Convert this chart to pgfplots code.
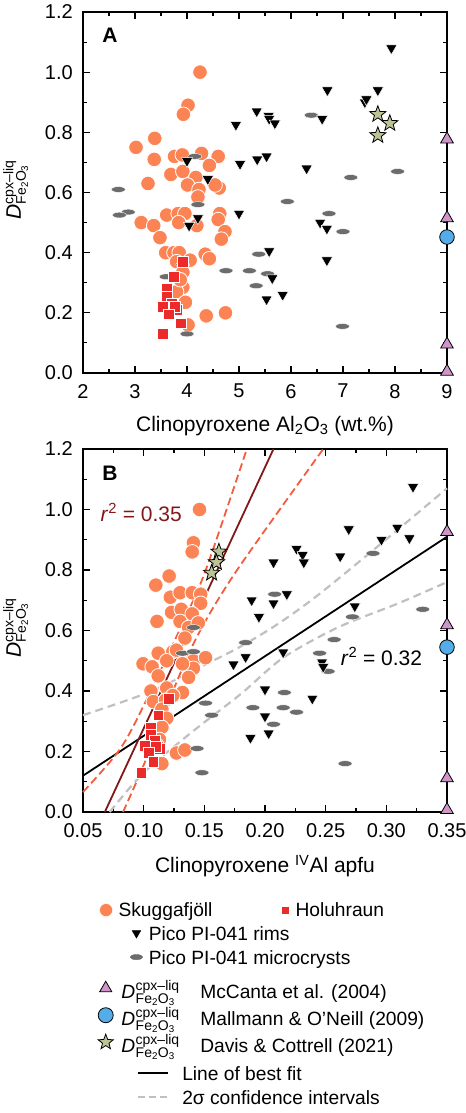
\documentclass[border=0pt]{standalone}
\usepackage{fontspec}
\setmainfont{Liberation Sans}
\usepackage{amsmath}
\usepackage{pgfplots}
\pgfplotsset{compat=1.18}
\usetikzlibrary{plotmarks}

\definecolor{Skug}{RGB}{252,132,84}
\definecolor{Holu}{RGB}{236,42,42}
\definecolor{Micro}{RGB}{108,108,108}
\definecolor{StarG}{RGB}{186,196,150}
\definecolor{McC}{RGB}{207,148,201}
\definecolor{MalB}{RGB}{84,172,232}
\definecolor{DarkR}{RGB}{130,24,24}
\definecolor{OrD}{RGB}{244,92,62}
\definecolor{GreyD}{RGB}{192,192,192}

% filled five-pointed star
\pgfdeclareplotmark{fstar}{%
  \pgfpathmoveto{\pgfpointpolar{90}{\pgfplotmarksize}}%
  \pgfpathlineto{\pgfpointpolar{126}{0.42\pgfplotmarksize}}%
  \pgfpathlineto{\pgfpointpolar{162}{\pgfplotmarksize}}%
  \pgfpathlineto{\pgfpointpolar{198}{0.42\pgfplotmarksize}}%
  \pgfpathlineto{\pgfpointpolar{234}{\pgfplotmarksize}}%
  \pgfpathlineto{\pgfpointpolar{270}{0.42\pgfplotmarksize}}%
  \pgfpathlineto{\pgfpointpolar{306}{\pgfplotmarksize}}%
  \pgfpathlineto{\pgfpointpolar{342}{0.42\pgfplotmarksize}}%
  \pgfpathlineto{\pgfpointpolar{18}{\pgfplotmarksize}}%
  \pgfpathlineto{\pgfpointpolar{54}{0.42\pgfplotmarksize}}%
  \pgfpathclose\pgfusepathqfillstroke}

\newcommand{\fs}{\fontsize{20bp}{24bp}\selectfont}
\newcommand{\fl}{\fontsize{21bp}{25bp}\selectfont}
\newcommand{\fg}{\fontsize{19.2bp}{23bp}\selectfont}
\newcommand{\Dfe}{\textit{D}\kern0.5bp\raisebox{7.5bp}{\hbox to 0pt{\fontsize{14bp}{14bp}\selectfont cpx--liq\hss}}%
  \raisebox{-5bp}{\fontsize{14bp}{14bp}\selectfont Fe\textsubscript{2}O\textsubscript{3}}}

\pgfplotsset{
  panel/.style={
    scale only axis, width=364bp, clip=false,
    axis line style={line width=1.6bp},
    tick align=inside, major tick length=7bp, minor tick length=4bp,
    tick style={black, line width=1.1bp},
    minor x tick num=1, minor y tick num=1,
    ymin=0, ymax=1.2, ytick={0,0.2,0.4,0.6,0.8,1.0,1.2},
    ticklabel style={font=\fs, inner sep=1bp},
    xticklabel style={yshift=-10bp},
    yticklabel style={xshift=-9bp},
    label style={font=\fl},
    xlabel style={yshift=-13bp},
    /pgf/number format/assume math mode=true,
    yticklabel style={/pgf/number format/fixed, /pgf/number format/fixed zerofill, /pgf/number format/precision=1},
    ylabel={\Dfe},
    ylabel style={at={(axis description cs:-0.185,0.5)}, anchor=center},
  },
  skug/.style={only marks, mark=*, mark size=7.3bp, mark options={fill=Skug, draw=white, line width=0.8bp}, forget plot},
  holu/.style={only marks, mark=square*, mark size=5.4bp, mark options={fill=Holu, draw=white, line width=0.6bp}, forget plot},
  rims/.style={only marks, mark=triangle*, mark size=6.5bp, mark options={rotate=180, fill=black, draw=white, line width=0.5bp}, forget plot},
  micro/.style={only marks, mark=*, mark size=4bp, mark options={xscale=1.75, yscale=0.72, fill=Micro, draw=white, line width=0.4bp}, forget plot},
  davis/.style={only marks, mark=fstar, mark size=8.5bp, mark options={fill=StarG, draw=black, line width=0.8bp}, forget plot},
  mccan/.style={only marks, mark=triangle*, mark size=7.3bp, mark options={fill=McC, draw=black, line width=0.8bp}, forget plot},
  malm/.style={only marks, mark=*, mark size=7.3bp, mark options={fill=MalB, draw=black, line width=0.8bp}, forget plot},
  markleg/.style={legend image code/.code={\draw[##1] plot coordinates {(0bp,0bp)};}},
  lineleg/.style={legend image code/.code={\draw[##1] (0bp,0bp) -- (30bp,0bp);}},
  legbase/.style={legend cell align=left, legend style={draw=none, fill=none, font=\fg, inner sep=0pt, anchor=north west,
    nodes={inner sep=1bp, text height=18bp, text depth=4bp}}},
}

\begin{document}
\begin{tikzpicture}
\path[use as bounding box] (0bp,0bp) rectangle (466bp,-1113bp);

% ---------------- panel A ----------------
\begin{axis}[panel, at={(83bp,-12bp)}, anchor=north west, height=361bp,
  xmin=2, xmax=9, xtick={2,3,4,5,6,7,8,9},
  xlabel={Clinopyroxene Al\textsubscript{2}O\textsubscript{3} (wt.\%)},
  legbase, legend columns=2,
  legend style={at={(0.045,-1.454)},
    nodes={text height=17bp, text depth=5bp},
    /tikz/every odd column/.append style={column sep=5bp},
    /tikz/every even column/.append style={column sep=68bp}}]

\addplot[skug] coordinates {
(4.25,1.00)(4.02,0.89)(3.93,0.86)(3.02,0.75)(3.38,0.78)(3.37,0.71)(3.76,0.72)(3.91,0.725)
(4.28,0.73)(4.60,0.72)(4.43,0.69)(3.69,0.66)(3.92,0.67)(4.17,0.65)(3.25,0.63)(4.01,0.625)
(4.23,0.61)(4.62,0.615)(4.54,0.625)(4.21,0.585)(3.12,0.50)(3.36,0.49)(3.61,0.525)(3.83,0.53)
(3.96,0.53)(3.84,0.50)(4.19,0.49)(4.63,0.53)(4.60,0.51)(4.73,0.47)(4.66,0.445)(3.48,0.45)
(3.59,0.40)(3.75,0.40)(3.85,0.40)(4.06,0.375)(4.35,0.395)(4.43,0.38)(3.80,0.37)(3.92,0.335)
(3.92,0.285)(3.80,0.27)(3.97,0.235)(4.37,0.19)(4.74,0.20)(4.02,0.16)(3.87,0.31)
};
\addplot[micro] coordinates {
(2.68,0.61)(2.87,0.535)(2.70,0.525)(4.15,0.72)(4.21,0.56)(6.39,0.857)(5.93,0.57)(7.15,0.65)
(8.05,0.67)(6.73,0.53)(7.00,0.47)(5.38,0.395)(4.75,0.34)(5.20,0.34)(5.55,0.33)(3.60,0.32)
(5.33,0.29)(3.92,0.36)(4.00,0.13)(6.99,0.155)
};
\addplot[rims] coordinates {
(7.93,1.08)(7.67,0.94)(6.70,0.94)(7.42,0.90)(7.45,0.91)(5.34,0.87)(5.57,0.855)(5.58,0.845)
(5.69,0.83)(4.94,0.825)(6.60,0.845)(5.02,0.695)(5.35,0.71)(5.53,0.72)(6.30,0.68)(4.00,0.705)
(4.40,0.645)(5.00,0.53)(4.21,0.515)(4.04,0.49)(6.56,0.50)(6.69,0.48)(5.58,0.405)(6.69,0.375)
(5.64,0.315)(5.84,0.26)(5.53,0.245)
};
\addplot[holu] coordinates {
(3.92,0.37)(3.75,0.32)(3.61,0.28)(3.61,0.255)(3.71,0.23)(3.54,0.22)(3.81,0.21)(3.77,0.22)
(3.65,0.195)(3.88,0.165)(3.54,0.13)
};
\addplot[davis] coordinates {(7.67,0.86)(7.90,0.83)(7.67,0.79)};
\addplot[mccan] coordinates {(9,0.777)(9,0.515)(9,0.095)(9,0.005)};
\addplot[malm] coordinates {(9,0.452)};

\node[font=\fl\bfseries] at (rel axis cs:0.074,0.936) {A};

\addlegendimage{only marks, mark=*, mark size=6.5bp, mark options={fill=Skug, draw=white}, markleg}
\addlegendentry{Skuggafjöll}
\addlegendimage{only marks, mark=square*, mark size=4bp, mark options={fill=Holu, draw=white}, markleg}
\addlegendentry{Holuhraun}
\end{axis}

% ---------------- panel B ----------------
\begin{axis}[panel, at={(83bp,-449bp)}, anchor=north west, height=363bp,
  xmin=0.05, xmax=0.35, xtick={0.05,0.10,0.15,0.20,0.25,0.30,0.35},
  xticklabel style={/pgf/number format/fixed, /pgf/number format/fixed zerofill, /pgf/number format/precision=2},
  xlabel={Clinopyroxene \textsuperscript{IV}Al apfu},
  legbase,
  legend style={at={(0.129,-0.300)},
    /tikz/every odd column/.append style={column sep=5bp}}]

% regression lines
\addplot[GreyD, line width=2.2bp, dash pattern=on 8bp off 5bp, smooth, forget plot] coordinates {
(0.05,0.32)(0.105,0.397)(0.146,0.478)(0.179,0.545)(0.21,0.62)(0.243,0.715)(0.295,0.885)(0.35,1.07)
};
\addplot[GreyD, line width=2.2bp, dash pattern=on 8bp off 5bp, smooth, forget plot] coordinates {
(0.072,0.0)(0.10,0.13)(0.14,0.265)(0.18,0.39)(0.215,0.51)(0.26,0.61)(0.31,0.69)(0.35,0.76)
};
\addplot[black, line width=1.8bp, forget plot] coordinates {(0.05,0.12)(0.35,0.91)};
\addplot[OrD, line width=1.8bp, dash pattern=on 8bp off 4bp, smooth, forget plot] coordinates {
(0.05,0.066)(0.08,0.205)(0.101,0.36)(0.142,0.71)(0.157,0.866)(0.185,1.2)
};
\addplot[OrD, line width=1.8bp, dash pattern=on 8bp off 4bp, smooth, forget plot] coordinates {
(0.083,0.0)(0.10,0.155)(0.12,0.36)(0.144,0.58)(0.177,0.80)(0.248,1.2)
};
\addplot[DarkR, line width=1.8bp, forget plot] coordinates {(0.068,0.0)(0.207,1.2)};

\addplot[skug] coordinates {
(0.146,1.00)(0.141,0.89)(0.140,0.86)(0.121,0.78)(0.110,0.75)(0.122,0.71)(0.130,0.725)(0.140,0.725)
(0.147,0.72)(0.147,0.69)(0.123,0.66)(0.131,0.67)(0.140,0.655)(0.111,0.63)(0.130,0.63)(0.137,0.61)
(0.145,0.625)(0.134,0.575)(0.124,0.53)(0.112,0.525)(0.0995,0.49)(0.119,0.50)(0.141,0.50)(0.151,0.51)
(0.107,0.48)(0.141,0.475)(0.112,0.45)(0.137,0.445)(0.127,0.535)(0.132,0.49)(0.106,0.40)(0.119,0.41)
(0.132,0.395)(0.124,0.385)(0.108,0.365)(0.118,0.37)(0.115,0.34)(0.119,0.31)(0.115,0.28)(0.113,0.24)
(0.111,0.22)(0.115,0.16)(0.127,0.195)(0.134,0.205)
};
\addplot[micro] coordinates {
(0.289,0.855)(0.208,0.72)(0.330,0.67)(0.272,0.645)(0.141,0.61)(0.184,0.56)(0.257,0.57)(0.132,0.525)
(0.141,0.53)(0.245,0.525)(0.252,0.465)(0.216,0.395)(0.151,0.36)(0.156,0.32)(0.190,0.345)(0.215,0.345)
(0.226,0.33)(0.207,0.29)(0.144,0.21)(0.148,0.13)(0.266,0.16)
};
\addplot[rims] coordinates {
(0.322,1.075)(0.309,0.94)(0.269,0.935)(0.319,0.905)(0.296,0.90)(0.226,0.87)(0.231,0.85)(0.232,0.825)
(0.262,0.845)(0.207,0.825)(0.189,0.70)(0.207,0.69)(0.218,0.72)(0.195,0.645)(0.274,0.68)(0.174,0.488)
(0.184,0.512)(0.215,0.528)(0.247,0.495)(0.248,0.48)(0.200,0.405)(0.239,0.375)(0.200,0.316)(0.203,0.26)
(0.188,0.245)
};
\addplot[holu] coordinates {
(0.121,0.375)(0.112,0.32)(0.106,0.28)(0.106,0.255)(0.109,0.235)(0.101,0.22)(0.113,0.21)(0.110,0.215)
(0.104,0.195)(0.108,0.165)(0.098,0.13)
};
\addplot[davis] coordinates {(0.162,0.86)(0.160,0.825)(0.156,0.79)};
\addplot[mccan] coordinates {(0.35,0.926)(0.35,0.618)(0.35,0.112)(0.35,0.007)};
\addplot[malm] coordinates {(0.35,0.545)};

\node[font=\fl\bfseries] at (rel axis cs:0.074,0.934) {B};
\node[font=\fl, text=DarkR] at (axis cs:0.098,0.99) {\textit{r}\textsuperscript{2} = 0.35};
\node[font=\fl] at (axis cs:0.296,0.515) {\textit{r}\textsuperscript{2} = 0.32};

\addlegendimage{only marks, mark=triangle*, mark size=5bp, mark options={rotate=180, fill=black, draw=black}, markleg}
\addlegendentry{Pico PI-041 rims}
\addlegendimage{only marks, mark=*, mark size=3.6bp, mark options={xscale=1.75, yscale=0.72, fill=Micro, draw=Micro}, markleg}
\addlegendentry{Pico PI-041 microcrysts}
\end{axis}

% ---------------- legend: experimental partition coefficients ----------------
\begin{axis}[hide axis, scale only axis, width=364bp, height=363bp, at={(83bp,-449bp)}, anchor=north west,
  xmin=0, xmax=1, ymin=0, ymax=1, legbase,
  legend style={at={(0.041,-0.4477)},
    nodes={inner sep=0pt, text height=23.5bp, text depth=3.5bp},
    /tikz/every odd column/.append style={column sep=8bp}}]
\addlegendimage{only marks, mark=triangle*, mark size=7bp, mark options={fill=McC, draw=black, line width=0.8bp}, markleg}
\addlegendentry{\hbox to 79bp{\Dfe\hss}McCanta et al. (2004)}
\addlegendimage{only marks, mark=*, mark size=7.5bp, mark options={fill=MalB, draw=black, line width=0.8bp}, markleg}
\addlegendentry{\hbox to 79bp{\Dfe\hss}Mallmann \& O'Neill (2009)}
\addlegendimage{only marks, mark=fstar, mark size=8bp, mark options={fill=StarG, draw=black, line width=0.8bp}, markleg}
\addlegendentry{\hbox to 79bp{\Dfe\hss}Davis \& Cottrell (2021)}
\end{axis}

% ---------------- legend: regression lines ----------------
\begin{axis}[hide axis, scale only axis, width=364bp, height=363bp, at={(83bp,-449bp)}, anchor=north west,
  xmin=0, xmax=1, ymin=0, ymax=1, legbase,
  legend style={at={(0.148,-0.686)},
    /tikz/every odd column/.append style={column sep=12bp}}]
\addlegendimage{black, line width=1.8bp, lineleg}
\addlegendentry{Line of best fit}
\addlegendimage{GreyD, line width=2.2bp, dash pattern=on 7bp off 4bp, lineleg}
\addlegendentry{2σ confidence intervals}
\end{axis}
\end{tikzpicture}
\end{document}
